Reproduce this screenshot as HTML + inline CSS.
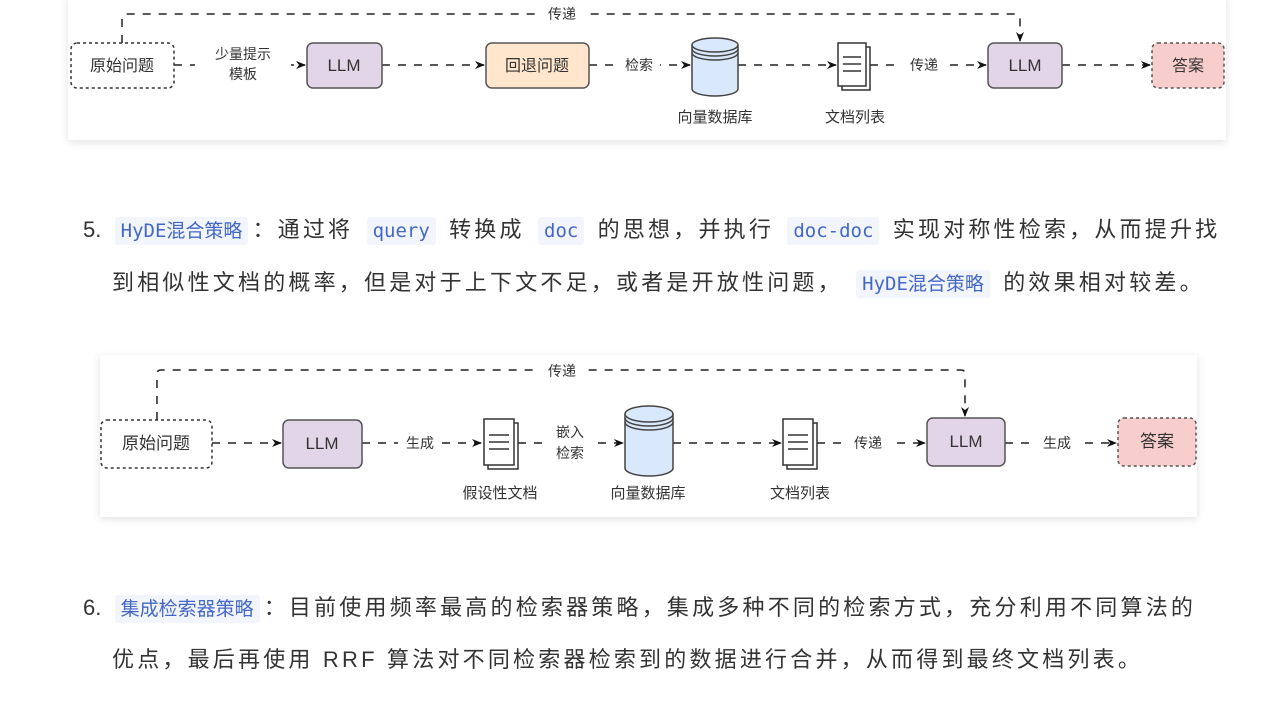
<!DOCTYPE html>
<html><head><meta charset="utf-8"><style>
body{margin:0;width:1277px;height:720px;background:#fff;position:relative;overflow:hidden;font-family:"Liberation Sans","Noto Sans CJK SC",sans-serif;}
.card{position:absolute;background:#fff;box-shadow:0 2px 8px rgba(0,0,0,0.12);}
.ln{position:absolute;font-size:22px;color:#333;white-space:nowrap;letter-spacing:3.2px;}
code{font-family:"DejaVu Sans Mono","Liberation Mono","Noto Sans CJK SC",monospace;font-size:19px;color:#4468c8;background:#f2f5fb;padding:3px 6px;border-radius:3px;margin:0 4px;letter-spacing:0;}
.num{color:#333;letter-spacing:0}
svg text{font-family:"Liberation Sans","Noto Sans CJK SC",sans-serif;fill:#333;}
</style></head><body>
<div class="card" style="left:68px;top:-4px;width:1158px;height:144px"></div>
<div class="card" style="left:100px;top:355px;width:1097px;height:162px"></div>
<svg width="1277" height="720" style="position:absolute;left:0;top:0">
<defs><marker id="a" markerWidth="10" markerHeight="10" refX="9" refY="5" orient="auto" markerUnits="userSpaceOnUse"><path d="M0,1 L10,5 L0,9 L3,5 z" fill="#111"/></marker></defs>
<g stroke="#222" stroke-width="1.5" fill="none" stroke-dasharray="8,8">
<path d="M122,43 V18 Q122,14 126,14 H1016 Q1020,14 1020,18 V41" marker-end="url(#a)"/>
<path d="M174,65 H305" marker-end="url(#a)"/>
<path d="M382,65 H484" marker-end="url(#a)"/>
<path d="M589,65 H690" marker-end="url(#a)"/>
<path d="M738,65 H836" marker-end="url(#a)"/>
<path d="M870,65 H986" marker-end="url(#a)"/>
<path d="M1062,65 H1150" marker-end="url(#a)"/>
<path d="M157,420 V374 Q157,370 161,370 H961 Q965,370 965,374 V416" marker-end="url(#a)"/>
<path d="M212,443 H281" marker-end="url(#a)"/>
<path d="M362,443 H481" marker-end="url(#a)"/>
<path d="M518,443 H623" marker-end="url(#a)"/>
<path d="M673,443 H781" marker-end="url(#a)"/>
<path d="M817,443 H925" marker-end="url(#a)"/>
<path d="M1005,443 H1116" marker-end="url(#a)"/>
</g>
<g fill="#fff">
<rect x="540" y="5" width="44" height="18"/><rect x="195" y="44" width="96" height="42"/><rect x="618" y="56" width="42" height="18"/><rect x="902" y="56" width="44" height="18"/>
<rect x="540" y="361" width="44" height="18"/><rect x="398" y="434" width="44" height="18"/><rect x="549" y="420" width="42" height="42"/><rect x="847" y="434" width="42" height="18"/><rect x="1036" y="434" width="42" height="18"/>
</g>
<g font-size="14" text-anchor="middle">
<text x="562" y="19">传递</text>
<text x="243" y="59">少量提示</text><text x="243" y="79">模板</text>
<text x="639" y="70">检索</text><text x="924" y="70">传递</text>
<text x="715" y="122" font-size="15">向量数据库</text><text x="855" y="122" font-size="15">文档列表</text>
<text x="562" y="376">传递</text><text x="420" y="448">生成</text>
<text x="570" y="437">嵌入</text><text x="570" y="458">检索</text>
<text x="868" y="448">传递</text><text x="1057" y="448">生成</text>
<text x="500" y="498" font-size="15">假设性文档</text><text x="648" y="498" font-size="15">向量数据库</text><text x="800" y="498" font-size="15">文档列表</text>
</g>
<g stroke-width="1.5">
<rect x="71" y="43" width="103" height="45" rx="6" fill="#fff" stroke="#333" stroke-dasharray="3,3"/>
<rect x="307" y="43" width="75" height="45" rx="6" fill="#e1d5e7" stroke="#555"/>
<rect x="486" y="43" width="103" height="45" rx="6" fill="#ffe6cc" stroke="#555"/>
<rect x="988" y="43" width="74" height="45" rx="6" fill="#e1d5e7" stroke="#555"/>
<rect x="1152" y="43" width="72" height="45" rx="6" fill="#f8cecc" stroke="#555" stroke-dasharray="3,3"/>
<path d="M692,45 V89 A23,7 0 0 0 738,89 V45" fill="#dae8fc" stroke="#444"/>
<ellipse cx="715" cy="45" rx="23" ry="7" fill="#dae8fc" stroke="#444"/>
<path d="M692,49 A23,7 0 0 0 738,49 M692,53 A23,7 0 0 0 738,53" fill="none" stroke="#444"/>
<rect x="842" y="47" width="28" height="43" fill="#fff" stroke="#333"/>
<rect x="838" y="43" width="28" height="43" fill="#fff" stroke="#333"/>
<path d="M843,57 H861 M843,64 H861 M843,71 H861" stroke="#333"/>
</g>
<g font-size="16" text-anchor="middle">
<text x="122" y="71">原始问题</text><text x="344" y="71" font-size="17">LLM</text><text x="537" y="71">回退问题</text>
<text x="1025" y="71" font-size="17">LLM</text><text x="1188" y="71">答案</text>
</g>
<g stroke-width="1.5">
<rect x="101" y="420" width="111" height="48" rx="6" fill="#fff" stroke="#333" stroke-dasharray="3,3"/>
<rect x="283" y="420" width="79" height="48" rx="6" fill="#e1d5e7" stroke="#555"/>
<rect x="927" y="418" width="78" height="48" rx="6" fill="#e1d5e7" stroke="#555"/>
<rect x="1118" y="418" width="78" height="48" rx="6" fill="#f8cecc" stroke="#555" stroke-dasharray="3,3"/>
<path d="M625,414 V468 A24,8 0 0 0 673,468 V414" fill="#dae8fc" stroke="#444"/>
<ellipse cx="649" cy="414" rx="24" ry="8" fill="#dae8fc" stroke="#444"/>
<path d="M625,418 A24,8 0 0 0 673,418 M625,422 A24,8 0 0 0 673,422" fill="none" stroke="#444"/>
<rect x="488" y="423" width="30" height="46" fill="#fff" stroke="#333"/>
<rect x="484" y="419" width="30" height="46" fill="#fff" stroke="#333"/>
<path d="M489,435 H509 M489,442 H509 M489,449 H509" stroke="#333"/>
<rect x="787" y="423" width="30" height="46" fill="#fff" stroke="#333"/>
<rect x="783" y="419" width="30" height="46" fill="#fff" stroke="#333"/>
<path d="M788,435 H808 M788,442 H808 M788,449 H808" stroke="#333"/>
</g>
<g font-size="17" text-anchor="middle">
<text x="156" y="449">原始问题</text><text x="322" y="449">LLM</text><text x="966" y="447">LLM</text><text x="1157" y="447">答案</text>
</g>
</svg>
<div class="ln" style="left:83px;top:212px"><span class="num">5.</span> <code>HyDE混合策略</code>：通过将 <code>query</code> 转换成 <code>doc</code> 的思想，并执行 <code>doc-doc</code> 实现对称性检索，从而提升找</div>
<div class="ln" style="left:112px;top:265px">到相似性文档的概率，但是对于上下文不足，或者是开放性问题， <code>HyDE混合策略</code> 的效果相对较差。</div>
<div class="ln" style="left:83px;top:590px"><span class="num">6.</span> <code>集成检索器策略</code>：目前使用频率最高的检索器策略，集成多种不同的检索方式，充分利用不同算法的</div>
<div class="ln" style="left:112px;top:642px">优点，最后再使用 RRF 算法对不同检索器检索到的数据进行合并，从而得到最终文档列表。</div>
</body></html>
